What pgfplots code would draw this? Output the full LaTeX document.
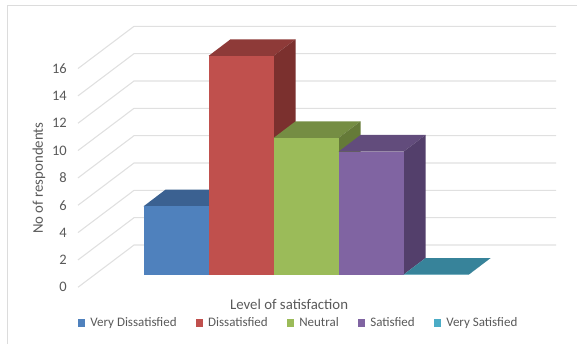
\documentclass[border=0pt]{standalone}
\usepackage{fontspec}
\setmainfont{Carlito}
\usepackage{pgfplots}
\pgfplotsset{compat=1.18}

\definecolor{txt}{HTML}{595959}
\definecolor{gridc}{HTML}{E0E0E0}
\definecolor{frame}{HTML}{DCDCDC}
\definecolor{blueF}{HTML}{4F81BD}\definecolor{blueT}{HTML}{3B6191}\definecolor{blueS}{HTML}{335480}
\definecolor{redF}{HTML}{C0504D}\definecolor{redT}{HTML}{8E3A38}\definecolor{redS}{HTML}{7B302E}
\definecolor{greenF}{HTML}{9BBB59}\definecolor{greenT}{HTML}{758D43}\definecolor{greenS}{HTML}{657A38}
\definecolor{purpleF}{HTML}{8064A2}\definecolor{purpleT}{HTML}{624C7C}\definecolor{purpleS}{HTML}{533F6B}
\definecolor{tealF}{HTML}{4BACC6}\definecolor{tealT}{HTML}{37839A}\definecolor{tealS}{HTML}{2F7185}

% depth of the extruded columns, in axis units
\def\dx{0.3385}
\def\dy{1.22}

% \column{left edge}{value}{colour stem}: top and side faces, then the front face
\newcommand\column[3]{%
  \pgfmathsetmacro\xr{#1+1}%
  \pgfmathsetmacro\xa{#1+\dx}%
  \pgfmathsetmacro\xb{#1+1+\dx}%
  \pgfmathsetmacro\ya{#2+\dy}%
  \addplot[forget plot,draw=none,fill=#3T] coordinates {(#1,#2) (\xr,#2) (\xb,\ya) (\xa,\ya)} -- cycle;
  \addplot[forget plot,draw=none,fill=#3S] coordinates {(\xr,0) (\xb,\dy) (\xb,\ya) (\xr,#2)} -- cycle;
  \addplot[draw=none,fill=#3F] coordinates {(#1,0) (\xr,0) (\xr,#2) (#1,#2)} -- cycle;
}

\begin{document}
\begin{tikzpicture}[x=1pt,y=1pt]
\path[use as bounding box] (0,0) rectangle (577,344);
\begin{axis}[
  at={(0,0)}, anchor=south west,
  scale only axis, width=577pt, height=344pt,
  xmin=-2.2077, xmax=6.669, ymin=-5.069, ymax=20.095,
  clip=false,
  axis x line=none,
  axis y line*=left,
  y axis line style={draw=none},
  major tick style={draw=none},
  ytick={-0.92,1.08,3.08,5.08,7.08,9.08,11.08,13.08,15.08},
  yticklabels={0,2,4,6,8,10,12,14,16},
  /pgf/number format/assume math mode=true,
  yticklabel style={font=\fontsize{14.5}{16}\selectfont, text=txt, anchor=east, xshift=67pt, inner sep=0pt},
  legend columns=-1,
  legend cell align=left,
  legend style={
    at={(rel axis cs:0.135,0.061)}, anchor=west,
    draw=none, fill=none, inner sep=0pt, outer sep=0pt,
    font=\fontsize{13}{15}\selectfont, text=txt,
    /tikz/every odd column/.append style={column sep=3pt},
    /tikz/every even column/.append style={column sep=17pt},
  },
  legend image code/.code={
    \fill[#1] (0pt,-3.75pt) rectangle (7.5pt,3.75pt);
  },
]
% chart frame
\draw[frame,line width=1.2pt] (rel axis cs:0.013,0) -- (rel axis cs:0.013,0.984) -- (rel axis cs:1,0.984);

% gridlines on the side wall and the back wall
\pgfplotsinvokeforeach{0,2,...,16}{
  \draw[gridc,line width=1.1pt] (axis cs:-1.008,{#1-0.92}) -- (axis cs:-0.146,{#1+2.17}) -- (axis cs:6.346,{#1+2.17});
}

\column{0}{5}{blue}
\column{1}{16}{red}
\column{2}{10}{green}
\column{3}{9}{purple}
\column{4}{0}{teal}
\legend{Very Dissatisfied\hspace{6.5pt},Dissatisfied,Neutral,Satisfied,Very Satisfied}

\node[font=\fontsize{14.8}{16}\selectfont,text=txt] at (axis cs:2.24,-2.18) {Level of satisfaction};
\node[font=\fontsize{14.8}{16}\selectfont,text=txt,rotate=90] at (axis cs:-1.608,7.07) {No of respondents};
\end{axis}
\end{tikzpicture}
\end{document}
